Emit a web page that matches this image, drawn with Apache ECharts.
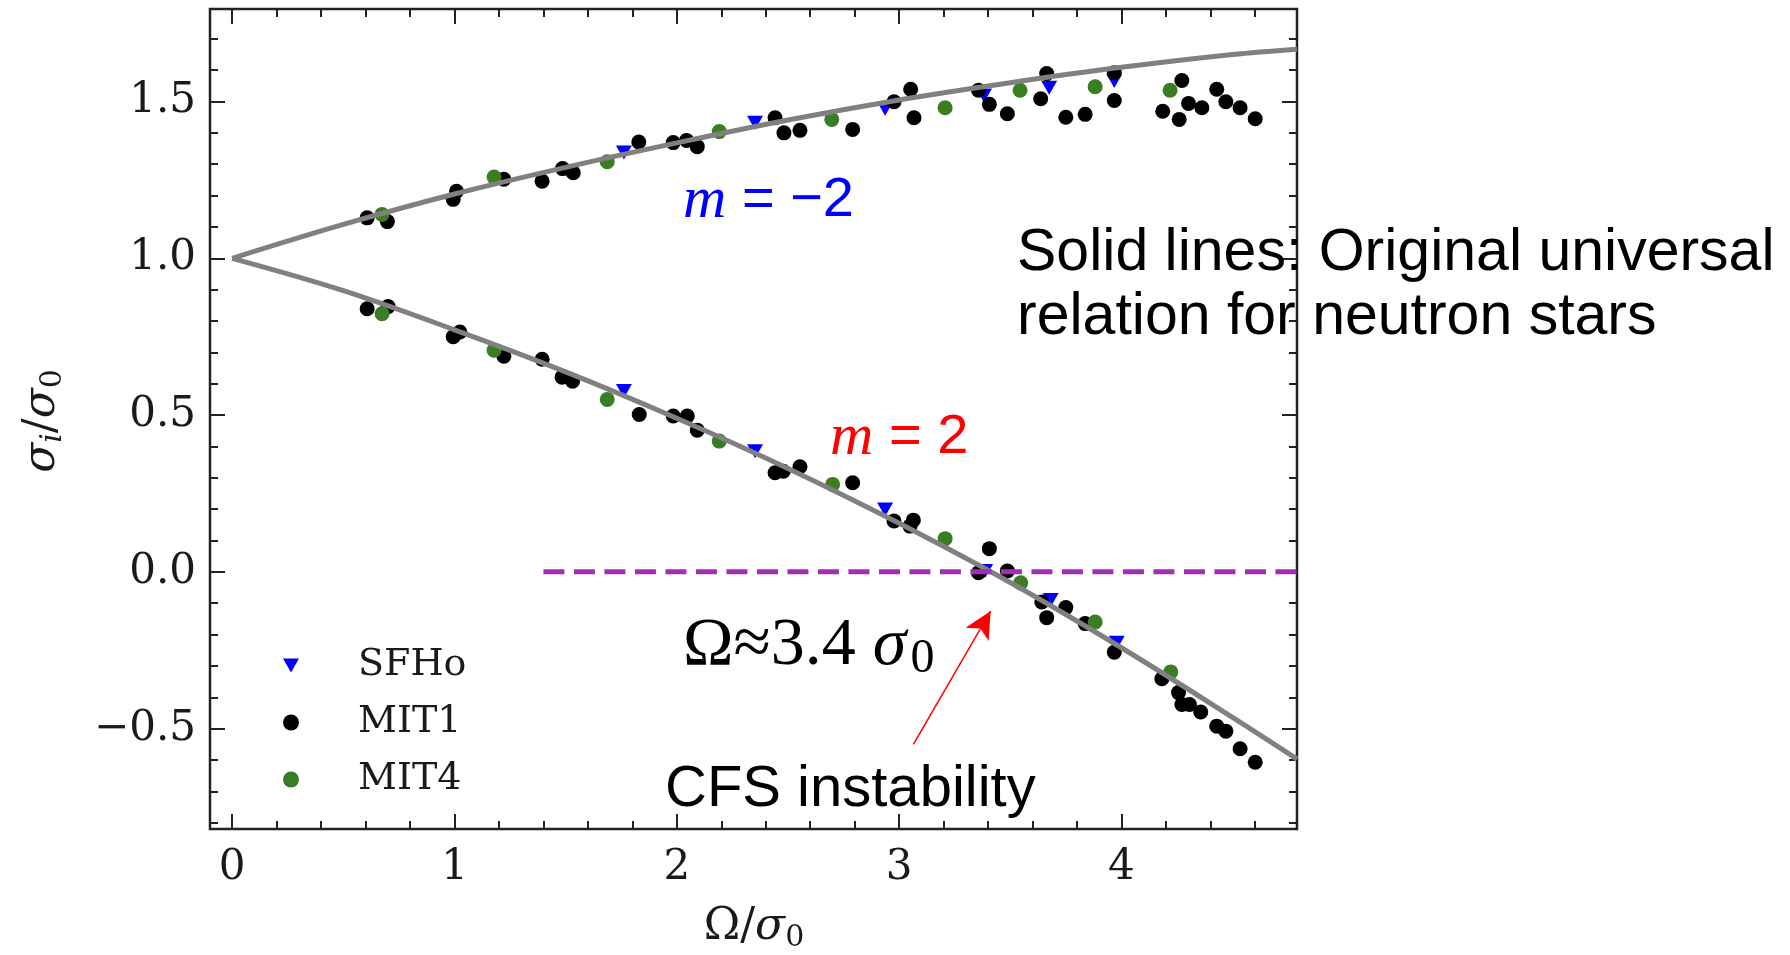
<!DOCTYPE html>
<html>
<head>
<meta charset="utf-8">
<title>Mode frequencies vs rotation</title>
<script src="https://cdn.jsdelivr.net/npm/echarts@6/dist/echarts.min.js"></script>
<style>
  html, body { margin: 0; padding: 0; background: #ffffff; }
  #chart { width: 1790px; height: 955px; }
</style>
</head>
<body>
<div id="chart"></div>
<script>
// Tick positions
const xMajorTicks = [0, 1, 2, 3, 4];
const xMinorTicks = [0.2, 0.4, 0.6, 0.8, 1.2, 1.4, 1.6, 1.8, 2.2, 2.4, 2.6, 2.8,
                     3.2, 3.4, 3.6, 3.8, 4.2, 4.4, 4.6];
const yMajorTicks = [-0.5, 0, 0.5, 1, 1.5];
const yMinorTicks = [-0.8, -0.7, -0.6, -0.4, -0.3, -0.2, -0.1, 0.1, 0.2, 0.3, 0.4,
                     0.6, 0.7, 0.8, 0.9, 1.1, 1.2, 1.3, 1.4, 1.6, 1.7];

// SFHo (m = -2 branch, then m = 2 branch)
const sfhoUpper = [[1.762, 1.337], [2.352, 1.432], [2.937, 1.477], [3.382, 1.519],
                   [3.675, 1.544], [3.968, 1.565]];
const sfhoLower = [[1.762, 0.577], [2.352, 0.385], [2.937, 0.199], [3.387, 0.003],
                   [3.682, -0.090], [3.979, -0.226]];

// MIT1
const mit1Upper = [[0.607, 1.129], [0.698, 1.117], [0.994, 1.188], [1.009, 1.214],
                   [1.222, 1.252], [1.394, 1.246], [1.486, 1.286], [1.534, 1.273],
                   [1.829, 1.371], [1.984, 1.369], [2.044, 1.376], [2.092, 1.356],
                   [2.442, 1.448], [2.482, 1.400], [2.554, 1.408], [2.791, 1.411],
                   [2.977, 1.499], [3.052, 1.539], [3.067, 1.448], [3.357, 1.536],
                   [3.406, 1.491], [3.487, 1.461], [3.637, 1.509], [3.664, 1.589],
                   [3.750, 1.450], [3.837, 1.459], [3.968, 1.592], [3.968, 1.503],
                   [4.186, 1.469], [4.260, 1.443], [4.272, 1.567], [4.302, 1.494],
                   [4.362, 1.480], [4.429, 1.539], [4.470, 1.499], [4.534, 1.480],
                   [4.602, 1.445]];
const mit1Lower = [[0.607, 0.839], [0.701, 0.846], [0.994, 0.750], [1.024, 0.765],
                   [1.222, 0.688], [1.394, 0.678], [1.484, 0.621], [1.531, 0.608],
                   [1.831, 0.502], [1.984, 0.497], [2.047, 0.497], [2.092, 0.452],
                   [2.442, 0.316], [2.479, 0.321], [2.554, 0.335], [2.791, 0.284],
                   [2.977, 0.162], [3.049, 0.146], [3.064, 0.165], [3.357, -0.003],
                   [3.406, 0.074], [3.487, 0.003], [3.642, -0.096], [3.664, -0.146],
                   [3.750, -0.114], [3.837, -0.165], [3.968, -0.256], [4.182, -0.341],
                   [4.257, -0.385], [4.272, -0.423], [4.306, -0.423], [4.357, -0.447],
                   [4.429, -0.492], [4.470, -0.508], [4.534, -0.564], [4.602, -0.607]];

// MIT4
const mit4Upper = [[0.674, 1.140], [1.178, 1.259], [1.687, 1.308], [2.191, 1.404],
                   [2.697, 1.443], [3.207, 1.480], [3.544, 1.536], [3.882, 1.547],
                   [4.219, 1.536]];
const mit4Lower = [[0.674, 0.823], [1.178, 0.707], [1.687, 0.550], [2.191, 0.417],
                   [2.701, 0.279], [3.207, 0.106], [3.547, -0.035], [3.882, -0.160],
                   [4.222, -0.319]];

// Universal relation curves for neutron stars
const relationMinus2 = [[0, 1.0], [0.5, 1.108], [1, 1.205], [1.5, 1.290], [2, 1.368],
                        [2.5, 1.441], [3, 1.505], [3.5, 1.560], [4, 1.609], [4.5, 1.650],
                        [4.79, 1.667]];
const relationPlus2 = [[0, 1.0], [0.5, 0.897], [1, 0.772], [1.5, 0.638], [2, 0.490],
                       [2.5, 0.330], [3, 0.155], [3.5, -0.034], [4, -0.242], [4.5, -0.464],
                       [4.79, -0.597]];

// Zero line marking the onset of the instability, and the pointer to the crossing
const zeroLine = [[1.4, 0], [4.79, 0]];
const arrowFrom = [3.064, -0.550];
const arrowTo = [3.412, -0.125];

const X_RANGE = [-0.1, 4.79];
const Y_RANGE = [-0.82, 1.795];

const AXIS_COLOR = '#222222';
const TICK_FONT = 'DejaVu Serif';
const triangleDown = 'path://M0,0L12,0L6,10.4Z';

function fmtY(v) {
  return (v < 0 ? '\u2212' : '') + Math.abs(v).toFixed(1);
}

function tickAxis(kind, position, ticks, len, withLabels) {
  const ax = {
    type: 'value',
    position: position,
    min: kind === 'x' ? X_RANGE[0] : Y_RANGE[0],
    max: kind === 'x' ? X_RANGE[1] : Y_RANGE[1],
    axisLine: { show: false, onZero: false },
    splitLine: { show: false },
    axisTick: {
      show: true, inside: true, length: len, customValues: ticks,
      lineStyle: { color: AXIS_COLOR, width: 2 }
    },
    axisLabel: { show: false }
  };
  if (withLabels) {
    ax.axisLabel = {
      show: true,
      customValues: ticks,
      fontFamily: TICK_FONT,
      fontSize: 42,
      color: '#1a1a1a',
      margin: kind === 'x' ? 18 : 14,
      formatter: kind === 'x' ? (v) => String(v) : fmtY
    };
  }
  return ax;
}

const chart = echarts.init(document.getElementById('chart'), null, { renderer: 'canvas' });

const option = {
  backgroundColor: '#ffffff',
  animation: false,
  grid: {
    left: 210, top: 9, width: 1087, height: 820,
    show: true, borderColor: AXIS_COLOR, borderWidth: 2.5,
    backgroundColor: 'transparent'
  },
  xAxis: [
    tickAxis('x', 'bottom', xMajorTicks, 15, true),
    tickAxis('x', 'bottom', xMinorTicks, 8, false),
    tickAxis('x', 'top', xMajorTicks, 15, false),
    tickAxis('x', 'top', xMinorTicks, 8, false)
  ],
  yAxis: [
    tickAxis('y', 'left', yMajorTicks, 15, true),
    tickAxis('y', 'left', yMinorTicks, 8, false),
    tickAxis('y', 'right', yMajorTicks, 15, false),
    tickAxis('y', 'right', yMinorTicks, 8, false)
  ],
  legend: {
    orient: 'vertical',
    left: 278, top: 632,
    itemWidth: 16, itemHeight: 16, itemGap: 0,
    textStyle: {
      fontFamily: TICK_FONT, fontSize: 38, color: '#1a1a1a',
      lineHeight: 57, padding: [0, 0, 0, 54]
    },
    data: [
      { name: 'SFHo', icon: triangleDown },
      { name: 'MIT1', icon: 'circle' },
      { name: 'MIT4', icon: 'circle' }
    ]
  },
  series: [
    {
      name: 'SFHo', type: 'scatter', z: 2,
      symbol: triangleDown, symbolSize: [16, 14],
      itemStyle: { color: '#0000ff', opacity: 1 },
      data: sfhoUpper.concat(sfhoLower)
    },
    {
      name: 'MIT1', type: 'scatter', z: 3,
      symbol: 'circle', symbolSize: 15,
      itemStyle: { color: '#000000', opacity: 1 },
      data: mit1Upper.concat(mit1Lower)
    },
    {
      name: 'MIT4', type: 'scatter', z: 4,
      symbol: 'circle', symbolSize: 15,
      itemStyle: { color: '#3a7d22', opacity: 1 },
      data: mit4Upper.concat(mit4Lower)
    },
    {
      name: 'relation m=-2', type: 'line', z: 5, smooth: 0.35, showSymbol: false,
      lineStyle: { color: '#808080', width: 5 },
      data: relationMinus2
    },
    {
      name: 'relation m=2', type: 'line', z: 5, smooth: 0.35, showSymbol: false,
      lineStyle: { color: '#808080', width: 5 },
      data: relationPlus2
    },
    {
      name: 'zero', type: 'line', z: 6, showSymbol: false,
      lineStyle: { color: '#a12fb3', width: 5, type: [21, 9.5] },
      data: zeroLine,
      markLine: {
        silent: true,
        symbol: ['none', 'arrow'],
        symbolSize: [20, 27],
        label: { show: false },
        lineStyle: { color: '#ff0000', width: 1.5, type: 'solid' },
        data: [[{ coord: arrowFrom }, { coord: arrowTo }]]
      }
    }
  ],
  graphic: [
    {
      type: 'text', z: 100,
      style: {
        x: 683, y: 201, verticalAlign: 'middle',
        text: '{i|m}{r| = \u22122}',
        rich: {
          i: { fontFamily: 'Liberation Serif', fontStyle: 'italic', fontSize: 60, fill: '#0000ff', lineHeight: 60 },
          r: { fontFamily: 'Liberation Sans', fontSize: 56, fill: '#0000ff', lineHeight: 60 }
        }
      }
    },
    {
      type: 'text', z: 100,
      style: {
        x: 830, y: 438, verticalAlign: 'middle',
        text: '{i|m}{r| = 2}',
        rich: {
          i: { fontFamily: 'Liberation Serif', fontStyle: 'italic', fontSize: 60, fill: '#ff0000', lineHeight: 60 },
          r: { fontFamily: 'Liberation Sans', fontSize: 56, fill: '#ff0000', lineHeight: 60 }
        }
      }
    },
    {
      type: 'text', z: 100,
      style: {
        x: 1017, y: 222, verticalAlign: 'top',
        text: 'Solid lines: Original universal\nrelation for neutron stars',
        fontFamily: 'Liberation Sans', fontSize: 59, lineHeight: 64, fill: '#000000'
      }
    },
    {
      type: 'text', z: 100,
      style: {
        x: 665, y: 760, verticalAlign: 'top',
        text: 'CFS instability',
        fontFamily: 'Liberation Sans', fontSize: 58, lineHeight: 60, fill: '#000000'
      }
    },
    {
      type: 'text', z: 100,
      style: {
        x: 683, y: 646, verticalAlign: 'middle',
        text: '{a|\u03A9\u22483.4 }{i|\u03C3}{s|0}',
        rich: {
          a: { fontFamily: 'Liberation Serif', fontSize: 68, fill: '#000000', lineHeight: 74 },
          i: { fontFamily: 'Liberation Serif', fontStyle: 'italic', fontSize: 68, fill: '#000000', lineHeight: 74 },
          s: { fontFamily: 'Liberation Serif', fontSize: 48, fill: '#000000', lineHeight: 20, verticalAlign: 'bottom', padding: [0, 0, 0, 4] }
        }
      }
    },
    {
      type: 'text', z: 100,
      x: 43, y: 421, rotation: Math.PI / 2,
      style: {
        x: 0, y: 0, align: 'center', verticalAlign: 'middle',
        text: '{i|\u03C3}{si|i}{r|/}{i|\u03C3}{s|0}',
        rich: {
          i: { fontFamily: 'DejaVu Serif', fontStyle: 'italic', fontSize: 44, fill: '#1a1a1a', lineHeight: 50 },
          r: { fontFamily: 'DejaVu Serif', fontSize: 44, fill: '#1a1a1a', lineHeight: 50 },
          si: { fontFamily: 'DejaVu Serif', fontStyle: 'italic', fontSize: 30, fill: '#1a1a1a', lineHeight: 22, verticalAlign: 'bottom' },
          s: { fontFamily: 'DejaVu Serif', fontSize: 30, fill: '#1a1a1a', lineHeight: 22, verticalAlign: 'bottom' }
        }
      }
    },
    {
      type: 'text', z: 100,
      style: {
        x: 754, y: 928, align: 'center', verticalAlign: 'middle',
        text: '{r|\u03A9/}{i|\u03C3}{s|0}',
        rich: {
          i: { fontFamily: 'DejaVu Serif', fontStyle: 'italic', fontSize: 44, fill: '#1a1a1a', lineHeight: 50 },
          r: { fontFamily: 'DejaVu Serif', fontSize: 44, fill: '#1a1a1a', lineHeight: 50 },
          s: { fontFamily: 'DejaVu Serif', fontSize: 30, fill: '#1a1a1a', lineHeight: 22, verticalAlign: 'bottom' }
        }
      }
    }
  ]
};

chart.setOption(option);
</script>
</body>
</html>
